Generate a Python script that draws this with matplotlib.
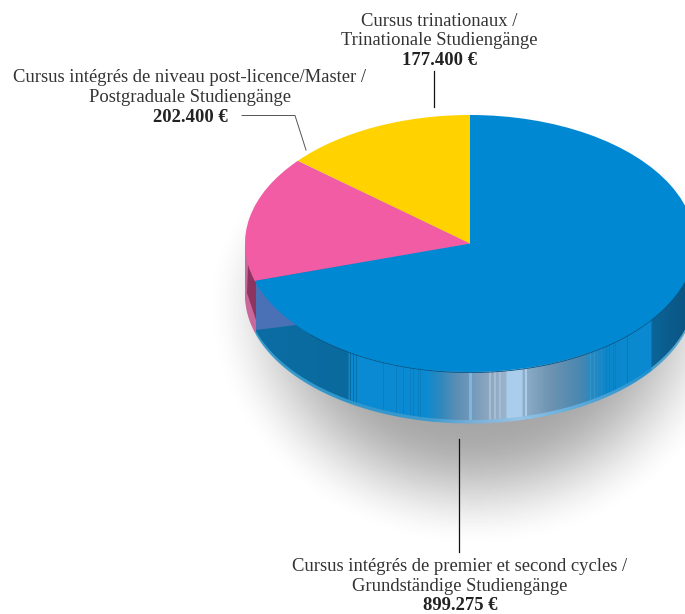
#!/usr/bin/env python3
"""
Budget split shown as an extruded pie with a soft drop shadow.
"""

import numpy as np
import matplotlib
matplotlib.use('Agg')
import matplotlib.pyplot as plt
from matplotlib.colors import to_rgb
from matplotlib.patches import Polygon

# Data
amounts = [899275, 202400, 177400]
slice_colors = ['#0089d2', '#f25ca5', '#ffd200']
label_lines = [
    ['Cursus intégrés de premier et second cycles /', 'Grundständige Studiengänge'],
    ['Cursus intégrés de niveau post-licence/Master /', 'Postgraduale Studiengänge'],
    ['Cursus trinationaux /', 'Trinationale Studiengänge'],
]
amount_labels = ['899.275 €', '202.400 €', '177.400 €']

# Layout in pixels
W, H = 685, 614
CX, CY = 470, 243.5
RX, RY = 225, 128.5
DEPTH = 48
RIM = 3.5
FONT = 'Liberation Serif'
FS = 13.4

# Side wall colours, (x pixel, colour) gradient stops
WALL_STOPS = [
    (0, '#c9689b'), (255.9, '#c9689b'), (256, '#0a6da3'), (348, '#0a6a9e'),
    (349, '#0a8ad2'), (425, '#0a8ad2'), (440, '#2e88bd'), (456, '#5a8eb4'),
    (488, '#8ca6c0'), (506, '#9ab4cc'), (507, '#a9cdea'), (522, '#a9cdea'),
    (523, '#8fafcb'), (550, '#6e94b1'), (580, '#4a87b0'), (606, '#0c88cc'),
    (651, '#0a8ad2'), (652, '#0a6598'), (685, '#0a5583'),
]
RIM_STOPS = [
    (0, '#c9689b'), (255.9, '#c9689b'), (256, '#3a9ccb'), (350, '#2f96cc'),
    (430, '#3f9bd0'), (470, '#76aed8'), (520, '#95c3e6'), (590, '#52a6d8'),
    (651, '#1f90d0'), (652, '#4b9fcb'), (685, '#5ba6cf'),
]
# Thin vertical streaks on the wall: (x pixel, width, colour)
WALL_STREAKS = [
    (350, 1, '#0a6a9e'), (353, 1, '#0a6a9e'), (356, 1, '#0a72aa'),
    (383, 1, '#0a7ebf'), (396, 1, '#0a7ebf'), (403, 1, '#0a7ebf'),
    (410, 1, '#0a7ebf'), (413, 1, '#0a7ebf'), (418, 1, '#0a7ebf'),
    (420, 1, '#0a7ebf'), (469, 3, '#7fb6e0'), (489, 2, '#a6bdd3'),
    (494, 2, '#a6bdd3'), (499, 2, '#a6bdd3'), (525, 2, '#a9cdea'),
    (590, 1, '#2b96cf'), (594, 1, '#2b96cf'), (597, 1, '#1c90cf'),
    (601, 1, '#1c90cf'), (606, 1, '#0a7ebf'), (609, 1, '#0a7ebf'),
    (613, 1, '#0a7ebf'), (615, 1, '#0a7ebf'), (627, 1, '#0a78b4'),
]


def gradient(stops, streaks=()):
    """One row of RGB pixels across the figure from gradient stops."""
    xs = np.arange(W) + 0.5
    px = [s[0] for s in stops]
    rgb = np.array([to_rgb(s[1]) for s in stops])
    row = np.stack([np.interp(xs, px, rgb[:, k]) for k in range(3)], axis=1)
    for x, width, color in streaks:
        row[x:x + width] = to_rgb(color)
    return row[np.newaxis, :, :]


def lower_outline(offset):
    """Lower half of the pie ellipse pushed down by offset, closed at the centre line."""
    t = np.linspace(np.pi, 0, 400)
    pts = np.column_stack([CX + RX * np.cos(t), CY + RY * np.sin(t) + offset])
    return np.vstack([pts, [CX + RX, CY], [CX - RX, CY]])


def clipped_strip(ax, row, offset, zorder):
    """Draw a column-coloured strip clipped to the extruded outline."""
    image = ax.imshow(row, extent=(0, W, H, 0), aspect='auto',
                      interpolation='nearest', zorder=zorder)
    image.set_clip_path(Polygon(lower_outline(offset), transform=ax.transData))


def draw_shadow(ax):
    """Soft grey shadow falling below the pie."""
    yy, xx = np.mgrid[0:H, 0:W]
    # squashed above the centre so it barely shows behind the top edge
    ry = np.where(yy < 300, 195.0, 250.0)
    r = np.hypot((xx - 475) / 272.0, (yy - 300) / ry)
    fade = np.clip((1.0 - r) / 0.5, 0, 1)
    fade = fade * fade * (3 - 2 * fade)
    gray = 1.0 - 0.345 * fade
    ax.imshow(gray, extent=(0, W, H, 0), aspect='auto', cmap='gray',
              vmin=0, vmax=1, interpolation='bilinear', zorder=1)


def draw_label(ax, x, y, lines, amount):
    """Two regular lines and a bold amount, centred on x."""
    for i, line in enumerate(lines):
        ax.text(x, y + i * 19.8, line, ha='center', va='center', family=FONT,
                fontsize=FS, color='#333333', zorder=6)
    ax.text(x, y + 2 * 19.6, amount, ha='center', va='center', family=FONT,
            fontsize=FS, fontweight='bold', color='#222222', zorder=6)


def main():
    fig = plt.figure(figsize=(W / 100, H / 100), dpi=100, facecolor='white')

    # Pixel axes for shadow, side wall, leaders and labels
    ax = fig.add_axes([0, 0, 1, 1])
    draw_shadow(ax)
    clipped_strip(ax, gradient(RIM_STOPS), DEPTH + RIM, 2)
    clipped_strip(ax, gradient(WALL_STOPS, WALL_STREAKS), DEPTH, 3)

    # Cut-away faces at the left end of the wall
    ax.add_patch(Polygon([(256, 282), (264, 294), (280, 310), (296, 325), (256, 330)],
                         facecolor='#4a70b6', edgecolor='none', zorder=4))
    ax.add_patch(Polygon([(248, 265), (256, 282), (256, 320), (247, 293)],
                         facecolor='#8f3460', edgecolor='none', zorder=4))

    # Dark seam under the top face
    t = np.linspace(np.pi * 0.75, 0, 200)
    ax.plot(CX + RX * np.cos(t), CY + RY * np.sin(t) + 0.6, color='#0a5583',
            linewidth=0.6, zorder=4)

    # Leader lines
    ax.plot([459.5, 459.5], [439, 552], color='#111111', linewidth=0.9, zorder=5)
    ax.plot([434.5, 434.5], [71, 107], color='#111111', linewidth=0.9, zorder=5)
    ax.plot([242, 295, 306], [115.5, 115.5, 150], color='#555555', linewidth=0.7, zorder=5)

    draw_label(ax, 460, 566.5, label_lines[0], amount_labels[0])
    draw_label(ax, 190, 78, label_lines[1], amount_labels[1])
    draw_label(ax, 439.5, 21, label_lines[2], amount_labels[2])

    ax.set_xlim(0, W)
    ax.set_ylim(H, 0)
    ax.axis('off')

    # Top face: a real pie stretched into an ellipse by its axes box
    pie_ax = fig.add_axes([(CX - RX) / W, (H - CY - RY) / H, 2 * RX / W, 2 * RY / H],
                          zorder=2)
    pie_ax.patch.set_alpha(0)
    pie_ax.pie(amounts, colors=slice_colors, startangle=90, counterclock=False,
               radius=1, wedgeprops={'linewidth': 0})
    pie_ax.set_aspect('auto')
    pie_ax.set_xlim(-1, 1)
    pie_ax.set_ylim(-1, 1)

    fig.savefig('out.png', dpi=100)


if __name__ == '__main__':
    main()
